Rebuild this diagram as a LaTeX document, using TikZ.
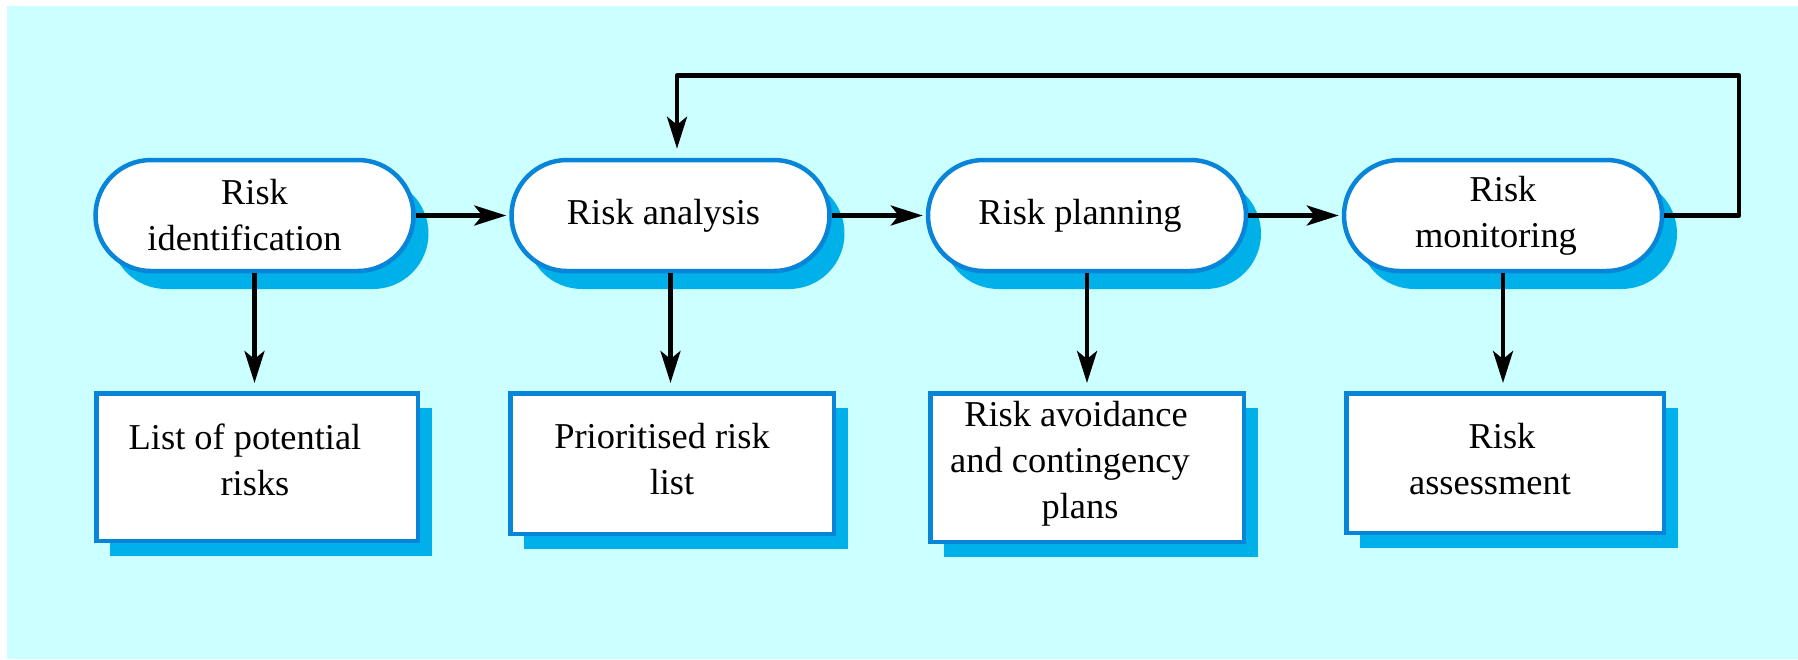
\documentclass[tikz,border=0pt]{standalone}
\usepackage{fontspec}
\setmainfont{Liberation Serif}
\usetikzlibrary{arrows.meta,shadows}
\newlength{\du}
\setlength{\du}{0.5pt}
\definecolor{diabackcolor}{rgb}{0.800000, 1.000000, 1.000000}
\definecolor{dialinecolor}{rgb}{0.031373, 0.517647, 0.847059}
\definecolor{diashadecolor}{rgb}{0.000000, 0.690196, 0.909804}
\newcommand{\trail}[1]{\makebox[#1\du]{}}

\begin{document}
\begin{tikzpicture}[x=\du,y=-\du,
  every node/.style={font=\fontsize{18.2}{23}\selectfont},
  stage/.style={draw=dialinecolor, line width=4.5\du, fill=white, rounded corners=55.5\du,
    minimum width=318\du, minimum height=111\du, align=center, inner sep=0pt,
    drop shadow={shadow xshift=15\du, shadow yshift=-18\du, fill=diashadecolor, opacity=1}},
  output/.style={draw=dialinecolor, line width=4.5\du, fill=white, inner sep=0pt,
    drop shadow={shadow xshift=14\du, shadow yshift=-15\du, fill=diashadecolor, opacity=1}},
  outtext/.style={align=center, inner sep=0pt},
  flow/.style={line width=4.5\du, line join=round, -{Stealth[length=16pt, width=10pt, inset=4pt]}}]
\useasboundingbox (0,0) rectangle (1798,659);
\fill[diabackcolor] (7,6) rectangle (1798,659);
% process stages
\node[stage] (identify) at (254.5,215.5) {Risk\\identification\trail{20}};
\node[stage] (analyse) at (670.5,215.5) {Risk analysis\trail{14}};
\node[stage] (plan) at (1087,215.5) {Risk planning\trail{14}};
\node[stage] (monitor) at (1503,215.5) {Risk\\monitoring\trail{14}};
% outputs
\node[output, minimum width=321.5\du, minimum height=147.5\du] (risklist) at (257,467) {};
\node[outtext] (risklisttext) at (255,459.5) {List of potential\trail{20}\\risks};
\node[output, minimum width=323.5\du, minimum height=140.5\du] (priolist) at (672,463.5) {};
\node[outtext] (priolisttext) at (672,459) {Prioritised risk\trail{20}\\list};
\node[output, minimum width=313.5\du, minimum height=148.5\du] (plans) at (1087,467.5) {};
\node[outtext] (planstext) at (1080,464) {Risk avoidance\trail{8}\\and contingency\trail{20}\\plans};
\node[output, minimum width=317.5\du, minimum height=139.5\du] (assess) at (1505,463) {};
\node[outtext] (assesstext) at (1502,459) {Risk\\assessment\trail{24}};
% connectors
\draw[flow, shorten >=1.5pt] (identify) -- (analyse);
\draw[flow, shorten >=1.5pt] (analyse) -- (plan);
\draw[flow, shorten >=1.5pt] (plan) -- (monitor);
\draw[flow, shorten >=4pt] (identify.south) -- (identify.south |- risklist.north);
\draw[flow, shorten >=4pt] (analyse.south) -- (analyse.south |- priolist.north);
\draw[flow, shorten >=4pt] (plan.south) -- (plan.south |- plans.north);
\draw[flow, shorten >=4pt] (monitor.south) -- (monitor.south |- assess.north);
% feedback
\coordinate (loopright) at (1739,75.7);
\coordinate (loopleft) at (677,75.7);
\draw[flow, shorten >=4.5pt] (monitor.east) -| (loopright) -- (loopleft) -- (loopleft |- analyse.north);
\end{tikzpicture}
\end{document}
